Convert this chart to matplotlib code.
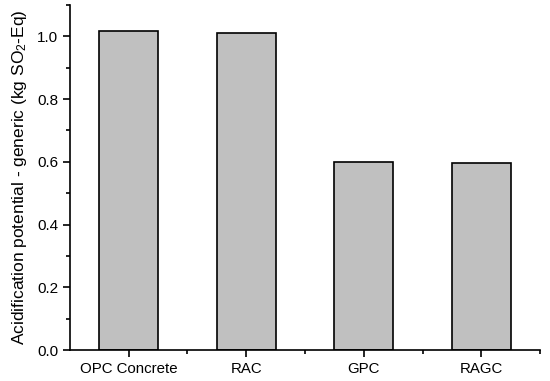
import matplotlib
matplotlib.use("Agg")
import matplotlib.pyplot as plt
from matplotlib.ticker import MultipleLocator, FixedLocator

plt.rcParams["font.family"] = ["Liberation Sans", "DejaVu Sans"]
plt.rcParams["mathtext.default"] = "regular"

categories = ["OPC Concrete", "RAC", "GPC", "RAGC"]
values = [1.018, 1.011, 0.600, 0.597]

fig = plt.figure(figsize=(5.5, 3.81), dpi=100)
ax = fig.add_axes([0.127, 0.081, 0.855, 0.906])

x = list(range(1, len(categories) + 1))
ax.bar(x, values, width=0.5, color="#c0c0c0", edgecolor="black", linewidth=1.2)

ax.set_xlim(0.5, 4.5)
ax.set_ylim(0, 1.1)
ax.set_xticks(x)
ax.set_xticklabels(categories, fontsize=10.8)
ax.xaxis.set_minor_locator(FixedLocator([1.5, 2.5, 3.5, 4.5]))
ax.yaxis.set_major_locator(MultipleLocator(0.2))
ax.yaxis.set_minor_locator(MultipleLocator(0.1))
ax.yaxis.set_major_formatter(matplotlib.ticker.FormatStrFormatter("%.1f"))
ax.tick_params(axis="y", labelsize=11)

ax.tick_params(which="major", direction="out", length=5, width=1.2)
ax.tick_params(which="minor", direction="out", length=3, width=1.2)

for s in ["top", "right"]:
    ax.spines[s].set_visible(False)
for s in ["left", "bottom"]:
    ax.spines[s].set_linewidth(1.2)

ax.set_ylabel("Acidification potential - generic (kg SO$_2$-Eq)", fontsize=12.5, labelpad=6)

fig.savefig("out.png", dpi=100)
